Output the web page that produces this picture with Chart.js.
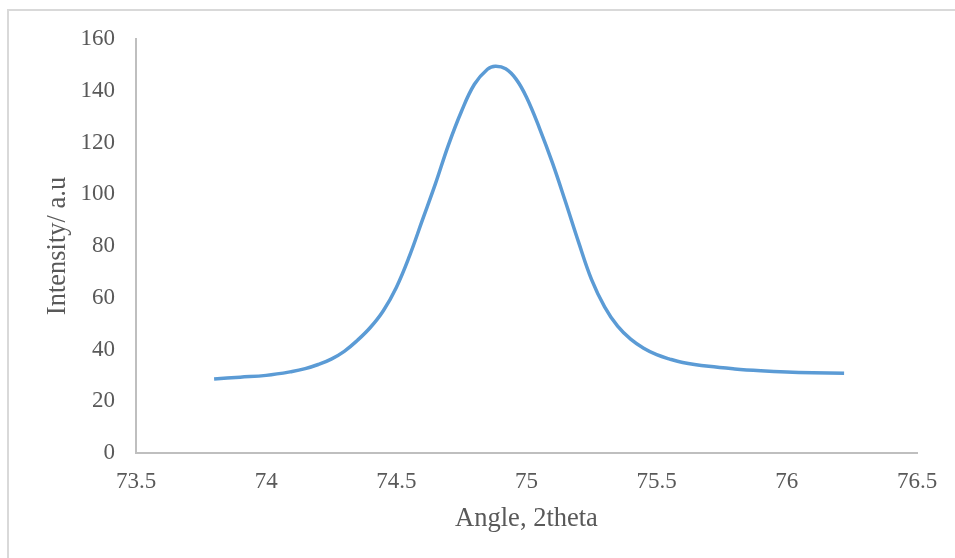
<!DOCTYPE html>
<html>
<head>
<meta charset="utf-8">
<script src="https://cdn.jsdelivr.net/npm/chart.js@4"></script>
<style>
  html, body { margin: 0; padding: 0; background: #fff; }
  #frame {
    position: absolute; left: 7px; top: 9px; width: 980px; height: 580px;
    border-top: 2px solid #d9d9d9; border-left: 2px solid #d9d9d9;
  }
  #wrap { position: absolute; left: 0; top: 0; width: 955px; height: 558px; }
</style>
</head>
<body>
<div id="frame"></div>
<div id="wrap"><canvas id="myChart" width="955" height="558"></canvas></div>
<script>
// values
const angles = [
  73.80, 73.90, 74.00, 74.10, 74.15, 74.20, 74.25, 74.30, 74.35, 74.40,
  74.45, 74.50, 74.55, 74.60, 74.65, 74.70, 74.75, 74.80, 74.85, 74.88,
  74.92, 74.96, 75.00, 75.05, 75.10, 75.15, 75.20, 75.25, 75.30, 75.35,
  75.40, 75.45, 75.50, 75.55, 75.60, 75.70, 75.80, 75.90, 76.00, 76.10,
  76.22
];
const intensity = [
  28.6, 29.3, 30.0, 31.5, 32.6, 34.2, 36.3, 39.3, 43.5, 48.5,
  55.0, 64.0, 76.0, 90.0, 104.0, 119.0, 132.0, 142.5, 148.3, 149.5,
  148.5, 144.5, 137.5, 125.5, 112.0, 97.0, 81.5, 67.0, 56.5, 49.0,
  44.0, 40.5, 38.0, 36.3, 35.0, 33.5, 32.5, 31.8, 31.3, 31.0,
  30.8
];
const xTicks = [73.5, 74, 74.5, 75, 75.5, 76, 76.5];
const yTicks = [0, 20, 40, 60, 80, 100, 120, 140, 160];

const ctx = document.querySelector("#myChart").getContext("2d");

const points = angles.map((a, i) => ({ x: a, y: intensity[i] }));

const serif = "'Liberation Serif', 'Times New Roman', serif";
const tickFont = { family: serif, size: 23 };
const titleFont = { family: serif, size: 26.5 };
const textColor = "#595959";
const axisColor = "#bfbfbf";

const config = {
    type: "scatter",
    data: {
        datasets: [{
            data: points,
            showLine: true,
            borderColor: "#5b9bd5",
            borderWidth: 3.5,
            pointRadius: 0,
            tension: 0.4,
            fill: false,
        }]
    },
    options: {
        responsive: false,
        animation: false,
        layout: { padding: { left: 38, top: 39, right: 38, bottom: 19 } },
        plugins: {
            legend: { display: false },
            tooltip: { enabled: false },
        },
        scales: {
            x: {
                type: "linear",
                min: xTicks[0],
                max: xTicks[xTicks.length - 1],
                afterBuildTicks: (axis) => { axis.ticks = xTicks.map(v => ({ value: v })); },
                afterFit: (axis) => { axis.height = 86; },
                grid: { display: false, drawTicks: false },
                border: { display: true, color: axisColor, width: 2 },
                ticks: { color: textColor, font: tickFont, padding: 15, maxRotation: 0, callback: (v) => String(v) },
                title: { display: true, text: "Angle, 2theta", color: textColor, font: titleFont, padding: { top: 4, bottom: 4 } },
            },
            y: {
                type: "linear",
                min: yTicks[0],
                max: yTicks[yTicks.length - 1],
                afterBuildTicks: (axis) => { axis.ticks = yTicks.map(v => ({ value: v })); },
                afterFit: (axis) => { axis.width = 98; },
                grid: { display: false, drawTicks: false },
                border: { display: true, color: axisColor, width: 2 },
                ticks: { color: textColor, font: tickFont, padding: 21 },
                title: { display: true, text: "Intensity/ a.u", color: textColor, font: titleFont, padding: { top: 4, bottom: 4 } },
            }
        }
    }
};

const myChart = new Chart(ctx, config);
</script>
</body>
</html>
